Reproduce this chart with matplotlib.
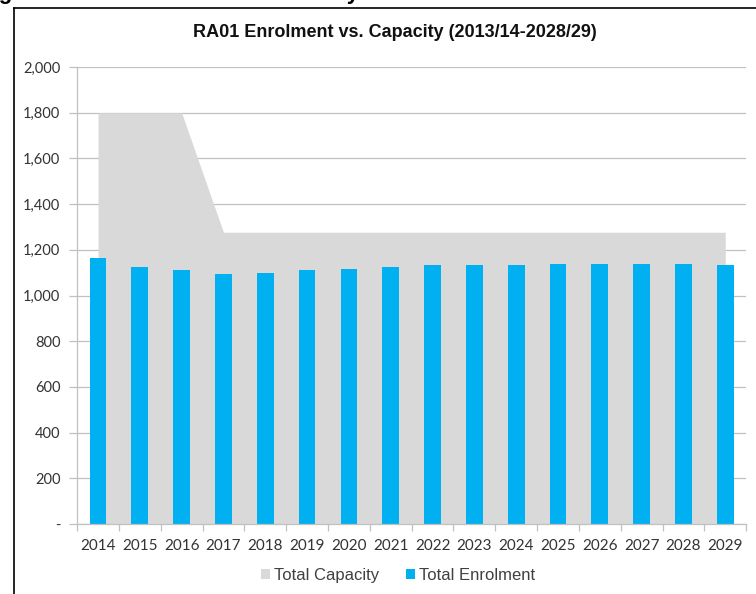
import numpy as np
import matplotlib.pyplot as plt
import matplotlib.ticker as mticker
from matplotlib.lines import Line2D

years = ["2014", "2015", "2016", "2017", "2018", "2019", "2020", "2021",
         "2022", "2023", "2024", "2025", "2026", "2027", "2028", "2029"]
capacity = [1800, 1800, 1800, 1277, 1277, 1277, 1277, 1277,
            1277, 1277, 1277, 1277, 1277, 1277, 1277, 1277]
enrolment = [1164, 1126, 1113, 1093, 1097, 1113, 1117, 1126,
             1135, 1135, 1135, 1139, 1139, 1139, 1139, 1135]
y_ticks = [0, 200, 400, 600, 800, 1000, 1200, 1400, 1600, 1800, 2000]

CAP_GREY = "#d9d9d9"
ENR_BLUE = "#00b0f0"
GRID = "#c0c0c0"
TXT = "#404040"

plt.rcParams["font.family"] = ["Liberation Sans", "DejaVu Sans"]

fig = plt.figure(figsize=(7.56, 5.94), dpi=100)
ax = fig.add_axes([0.102, 0.118, 0.885, 0.769])

x = np.arange(len(years))
ax.fill_between(x, capacity, 0, color=CAP_GREY, linewidth=0, zorder=2,
                label="Total Capacity")
ax.bar(x, enrolment, width=0.4, color=ENR_BLUE, zorder=3, label="Total Enrolment")

ax.set_xlim(-0.5, len(years) - 0.5)
ax.set_ylim(0, 2000)
ax.set_yticks(y_ticks)
ax.yaxis.set_major_formatter(mticker.FuncFormatter(
    lambda v, _: "-" if v == 0 else f"{v:,.0f}"))
ax.grid(axis="y", color=GRID, linewidth=0.9, zorder=1)
ax.set_axisbelow(True)

# category labels centred, tick marks on the boundaries between them
ax.set_xticks(x)
ax.set_xticklabels(years, fontfamily="Lato", fontsize=11, color="#333333")
ax.tick_params(axis="x", which="major", length=0, pad=11)
ax.set_xticks(np.arange(-0.5, len(years)), minor=True)
ax.tick_params(axis="x", which="minor", length=5, color=GRID, width=0.9)
ax.tick_params(axis="y", length=6, color=GRID, width=0.9, labelsize=10.5,
               labelcolor="#333333", pad=6)
for lbl in ax.get_yticklabels():
    lbl.set_fontfamily("Lato")

for side in ("top", "right"):
    ax.spines[side].set_visible(False)
for side in ("left", "bottom"):
    ax.spines[side].set_color(GRID)
    ax.spines[side].set_linewidth(0.9)
    ax.spines[side].set_zorder(4)

fig.text(0.522, 0.946, "RA01 Enrolment vs. Capacity (2013/14-2028/29)",
         ha="center", va="center", fontsize=13, fontweight="bold", color="#111111")

leg = ax.legend(loc="upper center", bbox_to_anchor=(0.48, -0.064), ncol=2,
                frameon=False, fontsize=12, handlelength=0.55, handleheight=0.55,
                handletextpad=0.25, columnspacing=1.6)
for t in leg.get_texts():
    t.set_color(TXT)

# page caption above the chart frame, only its descenders fall inside
fig.text(-0.028, 1.0 + 1.5 / 594, "Figure 5: RA01 Enrolment Summary", ha="left",
         va="baseline", fontsize=16, fontweight="bold", color="black")

# chart frame
fig.add_artist(Line2D([0.019, 0.019], [0, 0.987], color="black", linewidth=1.2,
                      transform=fig.transFigure))
fig.add_artist(Line2D([0.019, 1.0], [0.987, 0.987], color="black", linewidth=1.2,
                      transform=fig.transFigure))

fig.savefig("out.png", dpi=100, facecolor="white")
